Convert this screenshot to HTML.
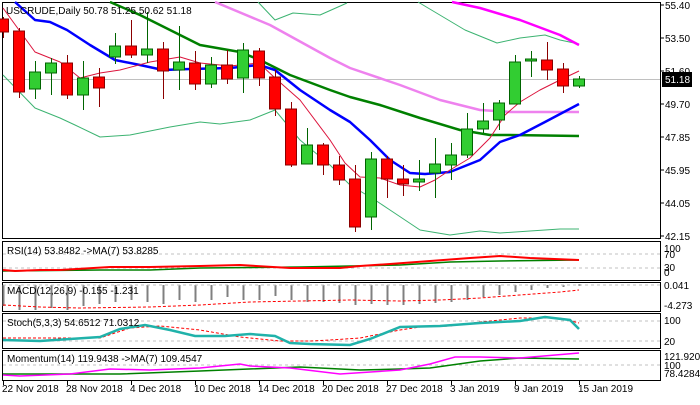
<!DOCTYPE html>
<html><head><meta charset="utf-8"><style>
body{margin:0;background:#fff;width:700px;height:400px;overflow:hidden}
svg text{font-family:"Liberation Sans",sans-serif;font-size:10px;fill:#000}
</style></head><body>
<svg width="700" height="400" xmlns="http://www.w3.org/2000/svg">
<rect width="700" height="400" fill="#fff"/>
<g fill="none" stroke="#000" stroke-width="1">
<rect x="2.5" y="2.5" width="658" height="236"/>
<rect x="2.5" y="241.5" width="658" height="39"/>
<rect x="2.5" y="282.5" width="658" height="29"/>
<rect x="2.5" y="313.5" width="658" height="35"/>
<rect x="2.5" y="350.5" width="658" height="30"/>
</g>
<line x1="3" y1="79.5" x2="660" y2="79.5" stroke="#c0c0c0"/>
<g fill="none" stroke-linejoin="round">
<polyline stroke="#3cb371" stroke-width="1" points="258,2 275,20 293,13 320,15 347,3"/>
<polyline stroke="#3cb371" stroke-width="1" points="418,2 465,30 497,43 520,38 545,35 560,40 579,44"/>
<polyline stroke="#3cb371" stroke-width="1" points="3,75 35,108 60,118 75,125 100,137 130,135 170,127 200,122 220,124 250,120 275,110 300,140 330,165 350,185 375,200 390,210 420,230 450,235 480,231 500,233 530,231 560,229 579,229"/>
<polyline stroke="#ee82ee" stroke-width="2.5" points="215,2 270,25 330,58 350,68 400,85 440,100 480,110 510,112 579,112"/>
<polyline stroke="#ff00ff" stroke-width="2.5" points="452,2 480,8 520,20 560,35 579,45"/>
<polyline stroke="#008000" stroke-width="2.5" points="110,2 140,15 160,25 200,45 240,52 260,60 290,75 330,90 350,97 380,105 420,118 460,130 490,135 510,135 579,136"/>
<polyline stroke="#0000ff" stroke-width="2.5" points="15,2 35,20 50,22 67,30 90,45 115,60 140,65 163,70 190,69 230,68 259,65 275,70 300,90 330,110 350,122 370,140 390,160 410,173 425,174 450,172 480,160 500,142 520,135 545,122 579,104"/>
<polyline stroke="#dc143c" stroke-width="1" points="3,8 35,52 60,62 80,78 100,73 120,70 150,62 180,57 200,63 230,66 259,63 275,78 300,100 330,140 345,163 360,177 380,178 400,185 420,187 435,180 450,170 470,158 490,138 505,115 520,102 540,90 560,80 579,71"/>
</g>
<g stroke="#8b0000"><line x1="3.5" y1="17" x2="3.5" y2="38"/><rect x="-2.5" y="19" width="11" height="13" fill="#f00"/>
<line x1="19.5" y1="28" x2="19.5" y2="98"/><rect x="13.5" y="31" width="11" height="61" fill="#f00"/>
<line x1="67.5" y1="55" x2="67.5" y2="99"/><rect x="61.5" y="63" width="11" height="32" fill="#f00"/>
<line x1="99.5" y1="68" x2="99.5" y2="107"/><rect x="93.5" y="77" width="11" height="11" fill="#f00"/>
<line x1="131.5" y1="20" x2="131.5" y2="58"/><rect x="125.5" y="46" width="11" height="9" fill="#f00"/>
<line x1="163.5" y1="42" x2="163.5" y2="99"/><rect x="157.5" y="49" width="11" height="22" fill="#f00"/>
<line x1="195.5" y1="51" x2="195.5" y2="90"/><rect x="189.5" y="63" width="11" height="21" fill="#f00"/>
<line x1="227.5" y1="50" x2="227.5" y2="84"/><rect x="221.5" y="65" width="11" height="14" fill="#f00"/>
<line x1="259.5" y1="48" x2="259.5" y2="86"/><rect x="253.5" y="51" width="11" height="27" fill="#f00"/>
<line x1="275.5" y1="70" x2="275.5" y2="116"/><rect x="269.5" y="77" width="11" height="32" fill="#f00"/>
<line x1="291.5" y1="102" x2="291.5" y2="167"/><rect x="285.5" y="109" width="11" height="56" fill="#f00"/>
<line x1="323.5" y1="143" x2="323.5" y2="175"/><rect x="317.5" y="145" width="11" height="20" fill="#f00"/>
<line x1="339.5" y1="156" x2="339.5" y2="185"/><rect x="333.5" y="165" width="11" height="15" fill="#f00"/>
<line x1="355.5" y1="165" x2="355.5" y2="232"/><rect x="349.5" y="179" width="11" height="48" fill="#f00"/>
<line x1="387.5" y1="156" x2="387.5" y2="198"/><rect x="381.5" y="159" width="11" height="20" fill="#f00"/>
<line x1="403.5" y1="165" x2="403.5" y2="196"/><rect x="397.5" y="179" width="11" height="5" fill="#f00"/>
<line x1="547.5" y1="42" x2="547.5" y2="80"/><rect x="541.5" y="60" width="11" height="10" fill="#f00"/>
<line x1="563.5" y1="63" x2="563.5" y2="93"/><rect x="557.5" y="69" width="11" height="17" fill="#f00"/>
</g>
<g stroke="#006400">
<line x1="35.5" y1="61" x2="35.5" y2="99"/><rect x="29.5" y="72" width="11" height="17" fill="#32cd32"/>
<line x1="51.5" y1="58" x2="51.5" y2="95"/><rect x="45.5" y="63" width="11" height="10" fill="#32cd32"/>
<line x1="83.5" y1="61" x2="83.5" y2="110"/><rect x="77.5" y="78" width="11" height="17" fill="#32cd32"/>
<line x1="115.5" y1="33" x2="115.5" y2="64"/><rect x="109.5" y="46" width="11" height="11" fill="#32cd32"/>
<line x1="147.5" y1="12" x2="147.5" y2="63"/><rect x="141.5" y="49" width="11" height="6" fill="#32cd32"/>
<line x1="179.5" y1="26" x2="179.5" y2="90"/><rect x="173.5" y="62" width="11" height="8" fill="#32cd32"/>
<line x1="211.5" y1="57" x2="211.5" y2="88"/><rect x="205.5" y="65" width="11" height="19" fill="#32cd32"/>
<line x1="243.5" y1="43" x2="243.5" y2="93"/><rect x="237.5" y="50" width="11" height="28" fill="#32cd32"/>
<line x1="307.5" y1="128" x2="307.5" y2="164"/><rect x="301.5" y="145" width="11" height="19" fill="#32cd32"/>
<line x1="371.5" y1="152" x2="371.5" y2="230"/><rect x="365.5" y="159" width="11" height="58" fill="#32cd32"/>
<line x1="419.5" y1="160" x2="419.5" y2="191"/><rect x="413.5" y="179" width="11" height="3" fill="#32cd32"/>
<line x1="435.5" y1="138" x2="435.5" y2="198"/><rect x="429.5" y="164" width="11" height="9" fill="#32cd32"/>
<line x1="451.5" y1="143" x2="451.5" y2="180"/><rect x="445.5" y="155" width="11" height="10" fill="#32cd32"/>
<line x1="467.5" y1="113" x2="467.5" y2="158"/><rect x="461.5" y="129" width="11" height="26" fill="#32cd32"/>
<line x1="483.5" y1="103" x2="483.5" y2="133"/><rect x="477.5" y="121" width="11" height="8" fill="#32cd32"/>
<line x1="499.5" y1="100" x2="499.5" y2="130"/><rect x="493.5" y="103" width="11" height="17" fill="#32cd32"/>
<line x1="515.5" y1="55" x2="515.5" y2="104"/><rect x="509.5" y="62" width="11" height="42" fill="#32cd32"/>
<line x1="531.5" y1="51" x2="531.5" y2="77"/><rect x="525.5" y="59" width="11" height="2" fill="#32cd32"/>
<line x1="579.5" y1="76" x2="579.5" y2="88"/><rect x="573.5" y="79" width="11" height="7" fill="#32cd32"/>
</g>
<g stroke="#808080" stroke-width="2">
<line x1="3.5" y1="285" x2="3.5" y2="306"/><line x1="19.5" y1="285" x2="19.5" y2="310"/><line x1="35.5" y1="285" x2="35.5" y2="310"/><line x1="51.5" y1="285" x2="51.5" y2="308"/><line x1="67.5" y1="285" x2="67.5" y2="310"/><line x1="83.5" y1="285" x2="83.5" y2="306"/><line x1="99.5" y1="285" x2="99.5" y2="304"/><line x1="115.5" y1="285" x2="115.5" y2="302"/><line x1="131.5" y1="285" x2="131.5" y2="300"/><line x1="147.5" y1="285" x2="147.5" y2="302"/><line x1="163.5" y1="285" x2="163.5" y2="304"/><line x1="179.5" y1="285" x2="179.5" y2="300"/><line x1="195.5" y1="285" x2="195.5" y2="302"/><line x1="211.5" y1="285" x2="211.5" y2="300"/><line x1="227.5" y1="285" x2="227.5" y2="297"/><line x1="243.5" y1="285" x2="243.5" y2="300"/><line x1="259.5" y1="285" x2="259.5" y2="300"/><line x1="275.5" y1="285" x2="275.5" y2="296"/><line x1="291.5" y1="285" x2="291.5" y2="300"/><line x1="307.5" y1="285" x2="307.5" y2="302"/><line x1="323.5" y1="285" x2="323.5" y2="302"/><line x1="339.5" y1="285" x2="339.5" y2="303"/><line x1="355.5" y1="285" x2="355.5" y2="305"/><line x1="371.5" y1="285" x2="371.5" y2="304"/><line x1="387.5" y1="285" x2="387.5" y2="305"/><line x1="403.5" y1="285" x2="403.5" y2="305"/><line x1="419.5" y1="285" x2="419.5" y2="304"/><line x1="435.5" y1="285" x2="435.5" y2="303"/><line x1="451.5" y1="285" x2="451.5" y2="302"/><line x1="467.5" y1="285" x2="467.5" y2="300"/><line x1="483.5" y1="285" x2="483.5" y2="297"/><line x1="499.5" y1="285" x2="499.5" y2="295"/><line x1="515.5" y1="285" x2="515.5" y2="292"/><line x1="531.5" y1="285" x2="531.5" y2="290"/><line x1="547.5" y1="285" x2="547.5" y2="288"/><line x1="563.5" y1="285" x2="563.5" y2="287"/><line x1="579.5" y1="284" x2="579.5" y2="286"/>
</g>
<g stroke="#c0c0c0" stroke-dasharray="3,3">
<line x1="3" y1="254" x2="660" y2="254"/><line x1="3" y1="268" x2="660" y2="268"/>
<line x1="3" y1="285" x2="660" y2="285"/>
<line x1="3" y1="321" x2="660" y2="321"/><line x1="3" y1="341" x2="660" y2="341"/>
<line x1="3" y1="365" x2="660" y2="365"/>
</g>
<g fill="none">
<polyline stroke="#008000" stroke-width="1.5" points="3,271 100,270 150,270 200,268 300,267 400,265 450,262 500,261 579,260"/>
<polyline stroke="#ff0000" stroke-width="2" points="3,270 15,271 40,270 60,270 110,267 150,267 200,266 240,265 290,268 340,268 360,266 390,264 430,261 470,258 500,256 530,258 579,260"/>
<polyline stroke="#ff0000" stroke-dasharray="3,2" points="3,305 40,307 80,308 150,307 200,305 250,302 300,301 350,300 400,301 440,300 480,298 520,295 560,292 579,290"/>
<polyline stroke="#ff0000" stroke-dasharray="3,2" points="3,338 40,338 100,338 130,328 160,326 200,330 240,337 280,341 310,341 330,340 360,338 400,330 420,327 450,326 480,322 520,318 560,318 579,323"/>
<polyline stroke="#20b2aa" stroke-width="2.5" points="3,340 40,341 70,339 100,337 120,329 145,325 170,330 195,336 225,336 250,334 275,336 290,343 310,344 350,345 370,339 400,327 440,326 480,323 520,321 545,317 570,320 579,329"/>
<polyline stroke="#008000" stroke-width="1.5" points="3,374 120,374 200,371 300,367 360,370 400,369 430,368 480,361 520,358 579,359"/>
<polyline stroke="#ff00ff" stroke-width="1.5" points="3,375 20,376 70,374 110,369 150,370 200,368 240,364 250,366 290,368 340,374 400,370 430,364 455,357 480,357 520,358 579,353"/>
</g>
<text x="6" y="14">USCRUDE,Daily  50.78 51.25 50.62 51.18</text>
<text x="7" y="254">RSI(14) 53.8482  -&gt;MA(7) 53.8285</text>
<text x="7" y="294">MACD(12,26,9) -0.155 -1.231</text>
<text x="7" y="326">Stoch(5,3,3) 54.6512 71.0312</text>
<text x="7" y="362">Momentum(14) 119.9438  -&gt;MA(7) 109.4547</text>
<text x="665" y="9">55.40</text><text x="665" y="42">53.50</text><text x="665" y="75">51.60</text>
<text x="665" y="108">49.70</text><text x="665" y="141">47.85</text><text x="665" y="174">45.95</text>
<text x="665" y="207">44.05</text><text x="665" y="240">42.15</text>
<rect x="662" y="72" width="30" height="15" fill="#000"/><text x="665" y="83" style="fill:#fff">51.18</text>
<text x="664" y="252">100</text><text x="664" y="258">70</text><text x="664" y="271">30</text><text x="664" y="276">0</text>
<text x="664" y="289">0.041</text><text x="664" y="309">-4.273</text>
<text x="664" y="324">100</text><text x="664" y="345">20</text>
<text x="664" y="360">121.9207</text><text x="664" y="369">100</text><text x="664" y="377">78.4284</text>
<g stroke="#000"><line x1="660" y1="5" x2="664" y2="5"/><line x1="660" y1="38" x2="664" y2="38"/><line x1="660" y1="71" x2="664" y2="71"/><line x1="660" y1="104" x2="664" y2="104"/><line x1="660" y1="137" x2="664" y2="137"/><line x1="660" y1="170" x2="664" y2="170"/><line x1="660" y1="203" x2="664" y2="203"/><line x1="660" y1="236" x2="664" y2="236"/></g>
<g stroke="#000"><line x1="3.5" y1="381" x2="3.5" y2="385"/><line x1="67.5" y1="381" x2="67.5" y2="385"/><line x1="131.5" y1="381" x2="131.5" y2="385"/><line x1="195.5" y1="381" x2="195.5" y2="385"/><line x1="259.5" y1="381" x2="259.5" y2="385"/><line x1="323.5" y1="381" x2="323.5" y2="385"/><line x1="387.5" y1="381" x2="387.5" y2="385"/><line x1="451.5" y1="381" x2="451.5" y2="385"/><line x1="515.5" y1="381" x2="515.5" y2="385"/><line x1="579.5" y1="381" x2="579.5" y2="385"/></g>
<text x="2" y="392">22 Nov 2018</text><text x="66" y="392">28 Nov 2018</text><text x="130" y="392">4 Dec 2018</text>
<text x="194" y="392">10 Dec 2018</text><text x="258" y="392">14 Dec 2018</text><text x="322" y="392">20 Dec 2018</text>
<text x="386" y="392">27 Dec 2018</text><text x="450" y="392">3 Jan 2019</text><text x="514" y="392">9 Jan 2019</text>
<text x="578" y="392">15 Jan 2019</text>
</svg>
</body></html>
